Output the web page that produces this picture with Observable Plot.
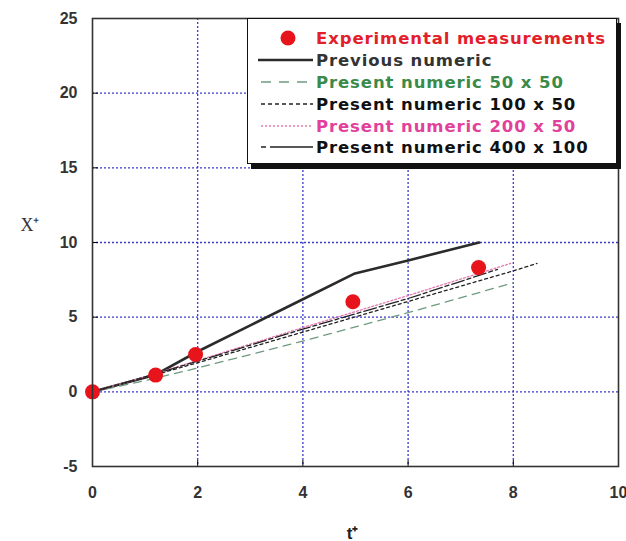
<!DOCTYPE html>
<html>
<head>
<meta charset="utf-8">
<script src="https://cdn.jsdelivr.net/npm/d3@7"></script>
<script src="https://cdn.jsdelivr.net/npm/@observablehq/plot@0.6"></script>
<style>
  html, body { margin: 0; padding: 0; background: #fff; }
  #wrap { position: relative; width: 626px; height: 541px; overflow: hidden; }
  #legend {
    position: absolute; left: 247px; top: 18px; width: 368px; height: 144px;
    background: #fff; border: 1.5px solid #111;
    box-shadow: 4px 5px 0 #111;
    font-family: "DejaVu Sans", sans-serif; font-weight: bold; font-size: 16.5px; letter-spacing: 0.9px;
  }
  .row { position: absolute; left: 0; height: 22px; display: flex; align-items: center; }
  .row svg { width: 67px; height: 22px; flex: none; }
  .row span { white-space: nowrap; margin-left: 1px; }
</style>
</head>
<body>
<div id="wrap"></div>
<script>
// ---- data ----
const xTicks = [0, 2, 4, 6, 8, 10];
const yTicks = [-5, 0, 5, 10, 15, 20, 25];
const xGrid = [2, 4, 6, 8];
const yGrid = [0, 5, 10, 15, 20];

const expT = [0, 1.2, 1.96, 4.95, 7.34];
const expX = [0, 1.12, 2.5, 6.03, 8.32];

const prevT = [0, 1.2, 2.0, 3.0, 4.0, 4.97, 6.0, 7.35];
const prevX = [0, 1.15, 2.7, 4.45, 6.2, 7.9, 8.8, 10.0];

const n50T = [0, 1, 2, 4, 6, 8];
const n50X = [0, 0.75, 1.6, 3.4, 5.3, 7.3];

const n100T = [0, 1, 2, 4, 6, 8, 8.45];
const n100X = [0, 0.95, 1.95, 4.0, 6.05, 8.1, 8.6];

const n200T = [0, 1, 2, 4, 6, 7.95];
const n200X = [0, 1.0, 2.1, 4.3, 6.45, 8.6];

const n400T = [0, 1, 2, 4, 6, 7.7];
const n400X = [0, 1.0, 2.05, 4.2, 6.25, 8.2];

const seriesNames = ["Experimental measurements", "Previous numeric", "Present numeric 50 x 50",
  "Present numeric 100 x 50", "Present numeric 200 x 50", "Present numeric 400 x 100"];

const xLabel = "t⁺";
const yLabel = "X⁺";

// ---- build ----
const zip = (ts, xs) => ts.map((t, i) => ({t, x: xs[i]}));
const exp = zip(expT, expX);
const styles = [
  {data: zip(prevT, prevX), stroke: "#2b2b2b", strokeWidth: 2.6, dash: null, legendDash: null},
  {data: zip(n50T, n50X), stroke: "#6f9a80", strokeWidth: 1.3, dash: "8,6", legendDash: "10,8"},
  {data: zip(n100T, n100X), stroke: "#222", strokeWidth: 1.3, dash: "3,3", legendDash: "4,3"},
  {data: zip(n200T, n200X), stroke: "#e47ab0", strokeWidth: 1.3, dash: "2,2", legendDash: "2,2"},
  {data: zip(n400T, n400X), stroke: "#222", strokeWidth: 1.3, dash: "4,3,13,3", legendDash: "5,4,40,0"}
];
const textColors = ["#e3202a", "#333", "#3a8a4a", "#111", "#e2409a", "#111"];

const chart = Plot.plot({
  width: 626, height: 541,
  marginLeft: 92, marginRight: 8, marginTop: 18, marginBottom: 75,
  style: {background: "#fff", fontFamily: "Liberation Sans, Arial, sans-serif"},
  x: {domain: [0, 10]},
  y: {domain: [-5, 25]},
  marks: [
    Plot.gridX(xGrid, {stroke: "#3a3acc", strokeOpacity: 1, strokeWidth: 1.3, strokeDasharray: "2,2"}),
    Plot.gridY(yGrid, {stroke: "#3a3acc", strokeOpacity: 1, strokeWidth: 1.3, strokeDasharray: "2,2"}),
    Plot.axisX(xTicks, {tickSize: -6, tickPadding: 26, fontSize: 16, fontWeight: "bold", fill: "#333", label: null, tickFormat: d => String(d)}),
    Plot.axisY(yTicks, {tickSize: -6, tickPadding: 21, fontSize: 16, fontWeight: "bold", fill: "#333", label: null, tickFormat: d => String(d)}),
    ...styles.map(s => Plot.line(s.data, {x: "t", y: "x", stroke: s.stroke, strokeWidth: s.strokeWidth, strokeDasharray: s.dash})),
    Plot.dot(exp, {x: "t", y: "x", r: 7.5, fill: "#e8141c", stroke: null}),
    Plot.frame({stroke: "#333", strokeWidth: 1.6}),
    Plot.text([xLabel], {frameAnchor: "bottom", dy: 72, dx: -3, fontSize: 17, fontWeight: "bold", fill: "#222"}),
    Plot.text([yLabel], {frameAnchor: "left", dx: -72, dy: -17, fontSize: 18, fontFamily: "Liberation Serif, serif", fill: "#333"})
  ]
});

const wrap = document.getElementById("wrap");
wrap.appendChild(chart);

// legend
const legend = document.createElement("div");
legend.id = "legend";
const rowCenters = [19, 41, 63, 85, 107, 128];
seriesNames.forEach((name, i) => {
  const row = document.createElement("div");
  row.className = "row";
  row.style.top = (rowCenters[i] - 11) + "px";
  const svg = d3.create("svg").attr("width", 67).attr("height", 22);
  if (i === 0) {
    svg.append("circle").attr("cx", 40).attr("cy", 11).attr("r", 7.5).attr("fill", "#e8141c");
  } else {
    const s = styles[i - 1];
    svg.append("line").attr("x1", i === 1 ? 10 : 13).attr("x2", 65).attr("y1", 11).attr("y2", 11)
      .attr("stroke", s.stroke).attr("stroke-width", s.strokeWidth)
      .attr("stroke-dasharray", s.legendDash);
  }
  row.appendChild(svg.node());
  const span = document.createElement("span");
  span.textContent = name;
  span.style.color = textColors[i];
  row.appendChild(span);
  legend.appendChild(row);
});
wrap.appendChild(legend);
</script>
</body>
</html>
